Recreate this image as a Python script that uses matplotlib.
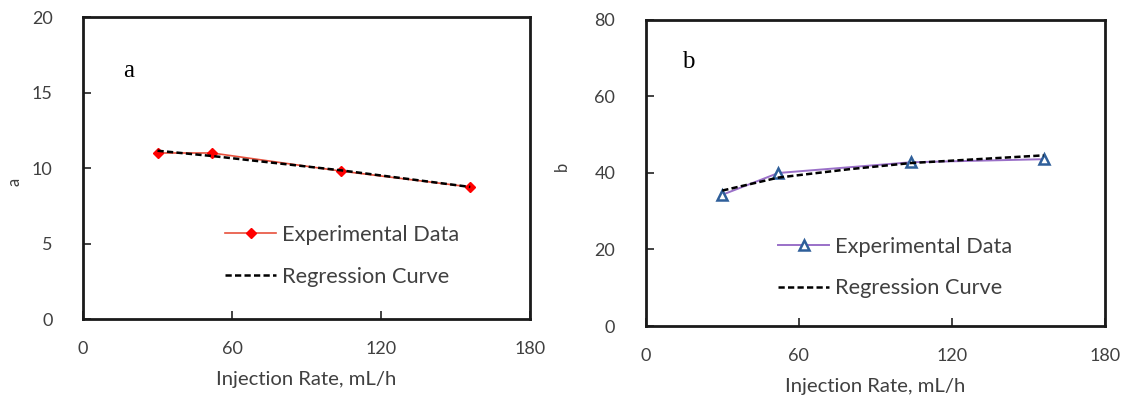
import matplotlib
matplotlib.use("Agg")
import matplotlib.pyplot as plt

# Panel a
rate_a = [30, 52, 104, 156]
a_exp = [11.0, 11.0, 9.8, 8.75]
a_reg = [11.15, 10.8, 9.85, 8.75]

# Panel b
rate_b = [30, 52, 104, 156]
b_exp = [34.3, 40.0, 42.8, 43.6]
reg_x_b = [30, 52, 80, 104, 130, 156]
b_reg = [35.4, 38.8, 41.0, 42.6, 43.6, 44.6]

x_ticks = [0, 60, 120, 180]
a_ticks = [0, 5, 10, 15, 20]
b_ticks = [0, 20, 40, 60, 80]

plt.rcParams['font.family'] = ['Lato', 'DejaVu Sans']
TXT = '#404040'

fig = plt.figure(figsize=(11.25, 4.07), dpi=100)
ax1 = fig.add_axes([0.0738, 0.216, 0.471 - 0.0738, 0.958 - 0.216])
ax2 = fig.add_axes([0.574, 0.199, 0.982 - 0.574, 0.951 - 0.199])

def style(ax, yticks, ylabel, ylab_xy):
    ax.set_xlim(0, 180)
    ax.set_ylim(yticks[0], yticks[-1])
    ax.set_xticks(x_ticks)
    ax.set_yticks(yticks)
    ax.tick_params(direction='in', length=6, width=1.2, colors='#222222',
                   labelcolor=TXT, labelsize=13)
    ax.tick_params(axis='x', pad=16)
    ax.tick_params(axis='y', pad=22)
    for s in ax.spines.values():
        s.set_linewidth(2.0)
        s.set_color('#1a1a1a')
    ax.set_xlabel('Injection Rate, mL/h', fontsize=14.6, color=TXT, labelpad=10)
    ax.set_ylabel(ylabel, fontsize=12, color=TXT)
    ax.yaxis.set_label_coords(*ylab_xy)

style(ax1, a_ticks, 'a', (-0.136, 0.454))
style(ax2, b_ticks, 'b', (-0.166, 0.52))

leg_kw = dict(loc='lower left', frameon=False, fontsize=15.7, labelcolor=TXT,
              handlelength=2.35, handletextpad=0.25, labelspacing=1.0,
              borderaxespad=0, borderpad=0)

ax1.plot(rate_a, a_exp, color='#e8503c', lw=1.2, marker='D', ms=5.5,
         mfc='red', mec='red', label='Experimental Data')
ax1.plot(rate_a, a_reg, color='black', lw=1.8, ls=(0, (2.5, 1.3)), label='Regression Curve')
ax1.text(0.089, 0.80, 'a', transform=ax1.transAxes, fontsize=18,
         family='Liberation Serif', color='black')
ax1.legend(bbox_to_anchor=(0.318, 0.107), **leg_kw)

ax2.plot(rate_b, b_exp, color='#9a70c8', lw=1.4, marker='^', ms=6.5,
         mfc='white', mec='#2f5f9a', mew=1.8, label='Experimental Data')
ax2.plot(reg_x_b, b_reg, color='black', lw=1.8, ls=(0, (2.5, 1.3)), label='Regression Curve')
ax2.text(0.078, 0.843, 'b', transform=ax2.transAxes, fontsize=18,
         family='Liberation Serif', color='black')
ax2.legend(bbox_to_anchor=(0.288, 0.09), **leg_kw)

fig.savefig('out.png', dpi=100)
